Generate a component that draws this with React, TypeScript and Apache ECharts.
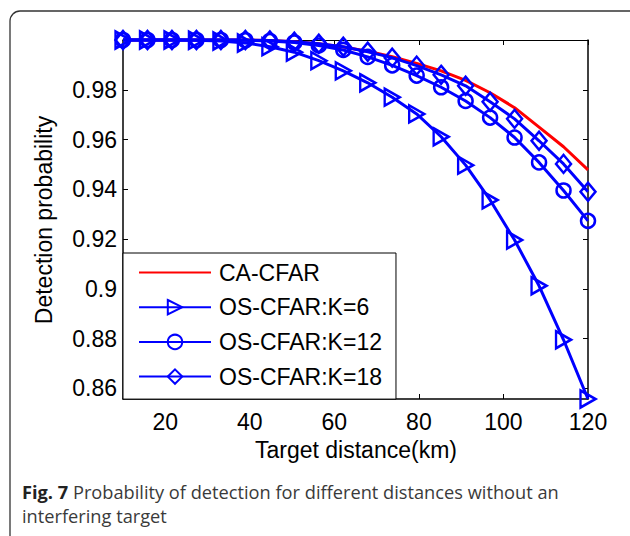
import React, { useEffect, useRef } from "react";
import * as echarts from "echarts";

const distances = [10, 15.79, 21.58, 27.37, 33.16, 38.95, 44.74, 50.53, 56.32, 62.11, 67.89, 73.68, 79.47, 85.26, 91.05, 96.84, 102.63, 108.42, 114.21, 120];
const caCfar = [1, 1, 1, 1, 1, 1, 0.9998, 0.9993, 0.9985, 0.9972, 0.9955, 0.9933, 0.9906, 0.9876, 0.9838, 0.9788, 0.9728, 0.965, 0.9571, 0.9478];
const osK6 = [1, 1, 1, 0.9999, 0.9996, 0.9988, 0.9973, 0.9951, 0.9917, 0.9876, 0.9828, 0.977, 0.9703, 0.9611, 0.9497, 0.9357, 0.9196, 0.9012, 0.8795, 0.8557];
const osK12 = [1, 1, 1, 1, 1, 0.9999, 0.9996, 0.999, 0.9978, 0.996, 0.9932, 0.9898, 0.9857, 0.981, 0.9755, 0.9688, 0.9608, 0.9508, 0.9395, 0.9273];
const osK18 = [1, 1, 1, 1, 1, 1, 0.9998, 0.9993, 0.9985, 0.9973, 0.9953, 0.9929, 0.9897, 0.986, 0.9816, 0.9752, 0.9683, 0.9595, 0.9502, 0.939];
const seriesNames = ["CA-CFAR", "OS-CFAR:K=6", "OS-CFAR:K=12", "OS-CFAR:K=18"];
const xTicks = [20, 40, 60, 80, 100, 120];
const yTicks = [0.86, 0.88, 0.9, 0.92, 0.94, 0.96, 0.98];
const xTitle = "Target distance(km)";
const yTitle = "Detection probability";
const captionLine1 = "{b|Fig. 7} Probability of detection for different distances without an";
const captionLine2 = "interfering target";

const FONT = "'Liberation Sans', Arial, Helvetica, sans-serif";
const CAPTION_FONT = "'Open Sans', sans-serif";
const BLUE = "#0000ff";
const RED = "#ff0000";

export default function App() {
  const ref = useRef<HTMLDivElement>(null);
  useEffect(() => {
    if (!ref.current) return;
    const chart = echarts.init(ref.current, null, { renderer: "svg" });
    const pair = (ys: number[]) => distances.map((x, i) => [x, ys[i]]);
    const markerStyle = { color: "rgba(255,255,255,0)", borderColor: BLUE, borderWidth: 2.5 };
    const axisLbl = { fontFamily: FONT, fontSize: 23, color: "#000" };
    chart.setOption({
      animation: false,
      backgroundColor: "#fff",
      grid: { left: 123, right: 42, top: 40, bottom: 137, containLabel: false, outerBoundsMode: "none" },
      xAxis: [
        {
          type: "value", min: 10, max: 120, position: "bottom",
          axisLine: { show: true, onZero: false, lineStyle: { color: "#000", width: 1.5 } },
          axisTick: { show: true, inside: true, length: 5, customValues: xTicks, lineStyle: { color: "#000", width: 1 } },
          axisLabel: { show: true, margin: 11, customValues: xTicks, ...axisLbl },
          splitLine: { show: false },
        },
        {
          type: "value", min: 10, max: 120, position: "top",
          axisLine: { show: true, onZero: false, lineStyle: { color: "#000", width: 1 } },
          axisTick: { show: true, inside: true, length: 5, customValues: xTicks, lineStyle: { color: "#000", width: 1 } },
          axisLabel: { show: false },
          splitLine: { show: false },
        },
      ],
      yAxis: [
        {
          type: "value", min: 0.8557, max: 1, position: "left",
          axisLine: { show: true, onZero: false, lineStyle: { color: "#000", width: 1.5 } },
          axisTick: { show: true, inside: true, length: 5, customValues: yTicks, lineStyle: { color: "#000", width: 1 } },
          axisLabel: { show: true, margin: 6, customValues: yTicks, formatter: (v: number) => String(+(+v).toFixed(2)), ...axisLbl },
          splitLine: { show: false },
        },
        {
          type: "value", min: 0.8557, max: 1, position: "right",
          axisLine: { show: true, onZero: false, lineStyle: { color: "#000", width: 1.5 } },
          axisTick: { show: true, inside: true, length: 5, customValues: yTicks, lineStyle: { color: "#000", width: 1 } },
          axisLabel: { show: false },
          splitLine: { show: false },
        },
      ],
      legend: {
        show: true,
        orient: "vertical",
        left: 123,
        top: 253,
        padding: [8, 14, 11, 15],
        itemGap: 11.7,
        itemWidth: 72,
        itemHeight: 18,
        backgroundColor: "#fff",
        borderColor: "#000",
        borderWidth: 1,
        borderRadius: 0,
        data: seriesNames,
        textStyle: { fontFamily: FONT, fontSize: 23, color: "#000", padding: [0, 0, 0, 3] },
      },
      series: [
        {
          name: seriesNames[0], type: "line", data: pair(caCfar), clip: false,
          symbol: "circle", symbolSize: 0, showSymbol: false,
          lineStyle: { color: RED, width: 3 },
          itemStyle: { color: "rgba(0,0,0,0)", borderColor: "rgba(0,0,0,0)", borderWidth: 0 },
        },
        {
          name: seriesNames[1], type: "line", data: pair(osK6), clip: false,
          symbol: "path://M0,0 L10,5 L0,10 Z", symbolSize: [15, 17], showAllSymbol: true,
          color: BLUE, lineStyle: { color: BLUE, width: 3 }, itemStyle: markerStyle,
        },
        {
          name: seriesNames[2], type: "line", data: pair(osK12), clip: false,
          symbol: "circle", symbolSize: 14, showAllSymbol: true,
          color: BLUE, lineStyle: { color: BLUE, width: 3 }, itemStyle: markerStyle,
        },
        {
          name: seriesNames[3], type: "line", data: pair(osK18), clip: false,
          symbol: "diamond", symbolSize: [15, 18], showAllSymbol: true,
          color: BLUE, lineStyle: { color: BLUE, width: 3 }, itemStyle: markerStyle,
        },
      ],
      graphic: [
        {
          type: "rect", silent: true, z: -10,
          shape: { x: 10, y: 11, width: 640, height: 580, r: 10 },
          style: { fill: "none", stroke: "#333", lineWidth: 1.3 },
        },
        {
          type: "text", x: 356, y: 450,
          style: { text: xTitle, font: `23px ${FONT}`, fill: "#000", align: "center", verticalAlign: "middle" },
        },
        {
          type: "text", x: 44, y: 220, rotation: Math.PI / 2,
          style: { text: yTitle, font: `23px ${FONT}`, fill: "#000", align: "center", verticalAlign: "middle" },
        },
        {
          type: "text", x: 22, y: 491, scaleX: 0.985,
          style: {
            text: captionLine1, fontFamily: CAPTION_FONT, fontSize: 18.5, fill: "#3a3a3a",
            align: "left", verticalAlign: "middle",
            rich: { b: { fontFamily: CAPTION_FONT, fontSize: 18.5, fontWeight: "bold", fill: "#222" } },
          },
        },
        {
          type: "text", x: 22, y: 515, scaleX: 0.985,
          style: {
            text: captionLine2, fontFamily: CAPTION_FONT, fontSize: 18.5, fill: "#3a3a3a",
            align: "left", verticalAlign: "middle",
          },
        },
      ],
    });
    return () => chart.dispose();
  }, []);
  return (
    <div
      ref={ref}
      style={{ position: "absolute", left: 0, top: 0, width: 630, height: 536, background: "#fff" }}
    />
  );
}
